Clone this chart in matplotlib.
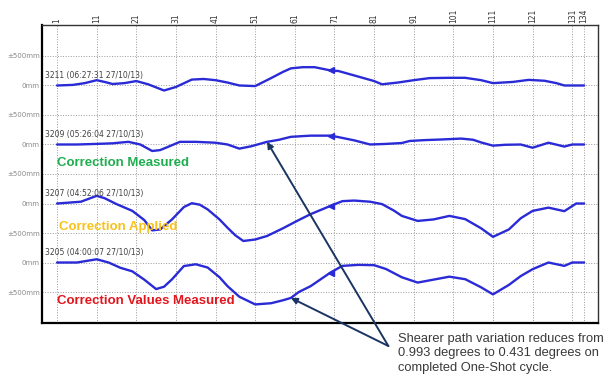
import matplotlib.pyplot as plt

# column numbers along the top
col_ticks = [1, 11, 21, 31, 41, 51, 61, 71, 81, 91, 101, 111, 121, 131, 134]

# deviation in mm for each run
x_3211 = [1, 5, 8, 11, 13, 15, 18, 21, 24, 28, 31, 35, 38, 41, 44, 47, 51, 55, 58, 60,
          63, 66, 70, 72, 76, 81, 83, 87, 91, 95, 100, 104, 108, 111, 116, 120, 124, 127, 129, 134]
v_3211 = [0, 10, 40, 90, 60, 25, 40, 75, 20, -85, -25, 100, 110, 90, 50, 0, -10, 125, 230, 290,
          310, 310, 255, 245, 170, 75, 20, 50, 90, 125, 130, 130, 90, 40, 60, 95, 80, 40, 0, 0]

x_3209 = [1, 6, 11, 15, 19, 22, 25, 27, 29, 32, 36, 41, 44, 47, 50, 54, 57, 60, 65, 70,
          72, 76, 80, 84, 88, 90, 94, 98, 103, 106, 108, 111, 114, 118, 121, 125, 129, 131, 134]
v_3209 = [0, 0, 10, 20, 45, 0, -110, -95, -40, 45, 45, 30, 0, -70, -30, 45, 80, 130, 150, 150,
          125, 70, 0, 10, 25, 60, 75, 85, 100, 80, 35, -20, -5, 0, -55, 30, -35, 0, 0]

x_3207 = [1, 7, 11, 13, 16, 20, 23, 25, 27, 30, 33, 35, 37, 39, 42, 44, 46, 48, 51, 54,
          58, 62, 65, 70, 73, 76, 80, 83, 86, 88, 92, 96, 100, 104, 108, 111, 115, 118, 121, 125,
          129, 132, 134]
v_3207 = [0, 30, 130, 90, -10, -125, -280, -455, -440, -270, -60, 5, -20, -100, -270, -410, -540, -635, -610, -550,
          -420, -280, -180, -40, 40, 50, 30, -10, -120, -210, -295, -270, -210, -265, -420, -565, -440, -250, -125, -70,
          -130, 0, 0]

x_3205 = [1, 6, 11, 14, 17, 20, 23, 26, 28, 30, 33, 36, 39, 42, 44, 47, 51, 55, 58, 60,
          62, 65, 70, 73, 77, 81, 84, 88, 92, 96, 100, 104, 108, 111, 115, 118, 121, 125, 129, 131,
          134]
v_3205 = [0, 0, 55, 0, -90, -150, -290, -450, -410, -285, -60, -30, -85, -250, -400, -580, -710, -690, -640, -600,
          -500, -400, -170, -57, -40, -45, -110, -250, -340, -290, -240, -283, -420, -540, -380, -230, -113, 0, -57, 0,
          0]

run_labels = ["3211 (06:27:31 27/10/13)", "3209 (05:26:04 27/10/13)",
              "3207 (04:52:06 27/10/13)", "3205 (04:00:07 27/10/13)"]
offsets = [0, -1000, -2000, -3000]

ytick_vals = [500, 0, -500, -1000, -1500, -2000, -2500, -3000, -3500]
ytick_text = ["±500mm", "0mm", "±500mm", "0mm", "±500mm", "0mm", "±500mm", "0mm", "±500mm"]

fig = plt.figure(figsize=(6.08, 3.75), dpi=100)
ax = fig.add_axes([42/608, 1-323/375, 556/608, 298/375])

runs = [(x_3211, v_3211), (x_3209, v_3209), (x_3207, v_3207), (x_3205, v_3205)]
for (xs, vs), off, lab in zip(runs, offsets, run_labels):
    ys = [v + off for v in vs]
    ax.plot(xs, ys, color='#2a2ad6', lw=1.7, marker='<', ms=4.5,
            markevery=[xs.index(70)], solid_joinstyle='round', solid_capstyle='round', zorder=3)
    ax.text(-2, off + 175, lab, fontsize=5.5, color='#404040', va='center', ha='left')

ax.set_xlim(-2.8, 137.5)
ax.set_ylim(-4025, 1025)

ax.xaxis.tick_top()
ax.set_xticks(col_ticks)
ax.set_xticklabels([str(c) for c in col_ticks], rotation=90, fontsize=5.5, color='#333333')
ax.set_yticks(ytick_vals)
ax.set_yticklabels(ytick_text, fontsize=5, color='#8a8a8a')
ax.tick_params(length=0, pad=1.5)
ax.grid(True, ls=':', color='#999999', lw=0.7)

for s in ['left', 'bottom']:
    ax.spines[s].set_linewidth(1.6)
for s in ['top', 'right']:
    ax.spines[s].set_linewidth(1.0)
    ax.spines[s].set_color('#333333')

# section captions
ax.text(1, -1310, "Correction Measured", fontsize=9.5, fontweight='bold',
        color='#1fae4f', family='Liberation Sans', va='center')
ax.text(1.5, -2395, "Correction Applied", fontsize=9.5, fontweight='bold',
        color='#f7c21b', family='Liberation Sans', va='center')
ax.text(1, -3655, "Correction Values Measured", fontsize=9.5, fontweight='bold',
        color='#e3151d', family='Liberation Sans', va='center')

# callout arrows to the traces
tail = (84.6, -4415)
i2 = x_3209.index(54)
i4 = x_3205.index(60)
heads = [(x_3209[i2], v_3209[i2] + offsets[1]), (x_3205[i4], v_3205[i4] + offsets[3])]
for h in heads:
    ax.annotate('', xy=h, xytext=tail, annotation_clip=False,
                arrowprops=dict(arrowstyle='-|>', color='#1b3563', lw=1.4,
                                mutation_scale=9, shrinkA=0, shrinkB=0))

fig.text(398/608, 1-333/375,
         "Shearer path variation reduces from\n0.993 degrees to 0.431 degrees on\ncompleted One-Shot cycle.",
         fontsize=9.3, color='#3a3a3a', family='Liberation Sans', va='top', ha='left',
         linespacing=1.25)

fig.savefig('out.png', dpi=100)
